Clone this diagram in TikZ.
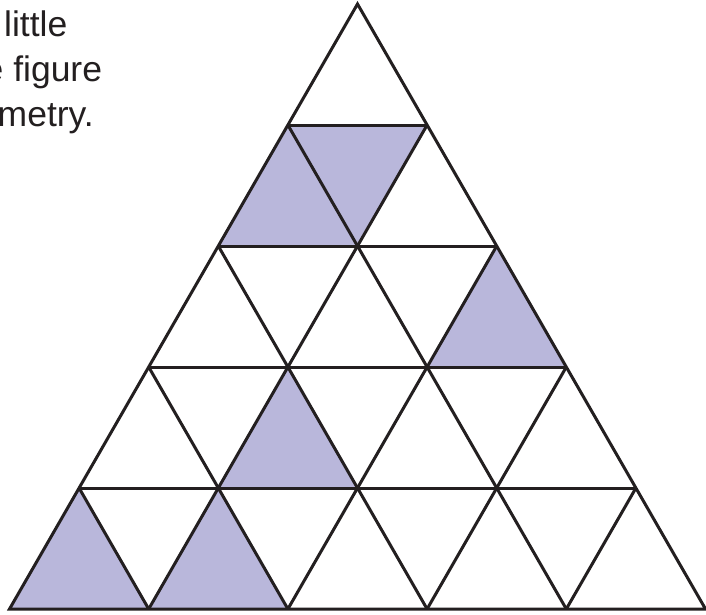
\documentclass[tikz,border=0pt]{standalone}
\usepackage{fontspec}
\setmainfont{Liberation Sans}
\definecolor{ink}{HTML}{231F20}
\definecolor{lav}{HTML}{B9B7DB}
\begin{document}
\begin{tikzpicture}[x=1pt,y=-1pt,
  grid/.style={draw=ink,line width=3pt},
  shade/.style={fill=lav},
  txt/.style={anchor=base west,inner sep=0pt,text=ink,font=\fontsize{35.5}{42}\selectfont}]
\useasboundingbox (0,0) rectangle (706,614);
\clip (0,0) rectangle (706,614);
\fill[white] (0,0) rectangle (706,614);
% vertices
\foreach \k in {0,...,5}{
  \foreach \i in {0,...,\k}{
    \coordinate (v-\k-\i) at ({357.5+69.6*(2*\i-\k)},{4+121*\k});
  }
}
% shaded triangles
\fill[shade] (v-1-0) -- (v-2-0) -- (v-2-1) -- cycle;
\fill[shade] (v-1-0) -- (v-1-1) -- (v-2-1) -- cycle;
\fill[shade] (v-2-2) -- (v-3-2) -- (v-3-3) -- cycle;
\fill[shade] (v-3-1) -- (v-4-1) -- (v-4-2) -- cycle;
\fill[shade] (v-4-0) -- (v-5-0) -- (v-5-1) -- cycle;
\fill[shade] (v-4-1) -- (v-5-1) -- (v-5-2) -- cycle;
% grid lines
\foreach \k in {1,...,4}{
  \draw[grid] (v-\k-0) -- (v-\k-\k);
}
\foreach \j [evaluate=\j as \r using int(5-\j)] in {1,...,4}{
  \draw[grid] (v-\j-0) -- (v-5-\r);
  \draw[grid] (v-\j-\j) -- (v-5-\j);
}
\draw[grid,line join=miter] (v-0-0) -- (v-5-0) -- (v-5-5) -- cycle;
% text
\node[txt] (t1) at (4,36) {little};
\node[txt] (t2) at (-16.5,81) {e figure};
\node[txt] (t3) at (-2.5,126) {metry.};
\end{tikzpicture}
\end{document}
